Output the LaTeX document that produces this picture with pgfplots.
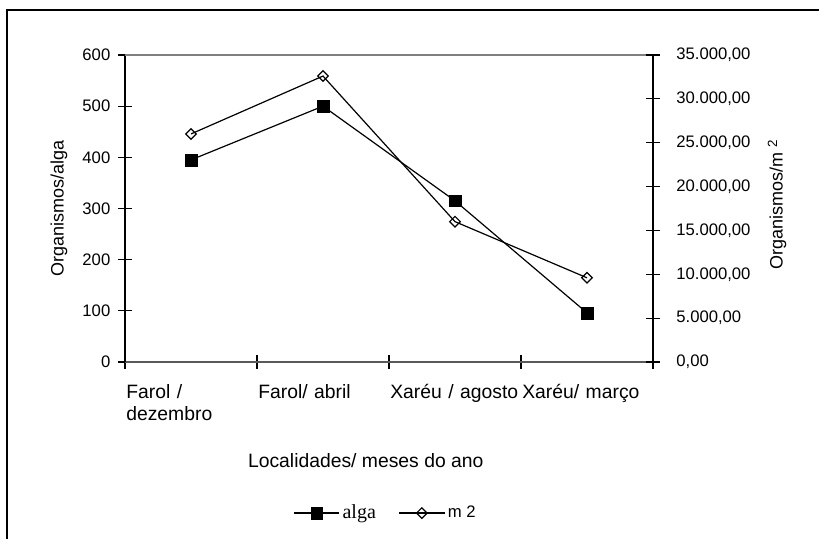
\documentclass[border=0pt]{standalone}
\usepackage{pgfplots}
\pgfplotsset{compat=1.18}
\usepackage{fontspec}
\setmainfont{Liberation Sans}
\newfontfamily\seriffont{Liberation Serif}
\newcommand{\fsT}{\fontsize{12.5}{15}\selectfont}
\newcommand{\fsC}{\fontsize{14.5}{16.5}\selectfont}
\newcommand{\fsL}{\fontsize{13.5}{16}\selectfont}
\begin{document}
\begin{tikzpicture}
\pgfplotsset{
  common/.style={
    scale only axis, width=396pt, height=230.25pt,
    xmin=0, xmax=4,
    tick align=center, major tick length=10pt,
    tick style={black, line width=0.8pt},
    /pgf/number format/assume math mode=true,
    yticklabel style={font=\fsT},
    every axis y label/.style={font=\fsL, rotate=90, anchor=center},
    clip=false,
  },
  algastyle/.style={black, line width=0.9pt, mark=square*, mark size=4.4pt, mark options={solid, fill=black, line width=0.3pt}},
  m2style/.style={black, line width=0.9pt, mark=square, mark size=2.8pt, mark options={solid, rotate=45, fill=white, line width=0.9pt}},
}
\begin{axis}[common,
  axis x line*=bottom, axis y line*=left,
  x axis line style={draw=black!65, line width=2pt, -},
  y axis line style={black, line width=1.1pt, -},
  ymin=0, ymax=600, ytick={0,100,...,600},
  xtick={0,1,2,3,4}, xticklabels={},
  extra x ticks={0.5,1.5,2.5,3.5},
  extra x tick labels={{Farol /\\dezembro}, {Farol/ abril}, {Xaréu / agosto}, {Xaréu/ março}},
  extra x tick style={major tick length=0pt, xticklabel style={font=\fsC, text width=97pt, align=left, anchor=north, yshift=-13pt}},
  yticklabel style={xshift=-2.5pt},
  xlabel={Localidades/ meses do ano},
  xlabel style={font=\fsC, at={(axis description cs:0.456,-0.322)}, anchor=center},
  ylabel={Organismos/alga},
  ylabel style={at={(axis description cs:-0.125,0.5)}},
]
\draw[black!50, line width=1.3pt] (axis cs:0,600) -- (axis cs:4,600);
\addplot[algastyle] coordinates {(0.5,395) (1.5,500) (2.5,315) (3.5,96)};
\end{axis}
\begin{axis}[common,
  axis x line=none, axis y line*=right,
  y axis line style={black, line width=1.1pt, -},
  ymin=0, ymax=35000, ytick={0,5000,10000,15000,20000,25000,30000,35000},
  scaled y ticks=false,
  yticklabels={{0,00},{5.000,00},{10.000,00},{15.000,00},{20.000,00},{25.000,00},{30.000,00},{35.000,00}},
  yticklabel style={xshift=9pt},
  ylabel={Organismos/m\;\raisebox{0.6ex}{\fontsize{10}{11}\selectfont 2}},
  ylabel style={at={(axis description cs:1.235,0.511)}},
  legend columns=2,
  legend cell align=left,
  legend style={draw=none, fill=none, at={(axis description cs:0.494,-0.492)}, anchor=center, font=\fsT,
    nodes={inner sep=2pt},
    /tikz/every even column/.append style={column sep=15pt}},
  legend image code/.code={\draw[mark repeat=2,mark phase=2,#1] plot coordinates {(0pt,0pt) (17pt,0pt) (34pt,0pt)};},
]
\addlegendimage{algastyle}
\addlegendentry{{\seriffont\fontsize{15}{17}\selectfont alga}}
\addplot[m2style] coordinates {(0.5,26000) (1.5,32600) (2.5,16000) (3.5,9600)};
\addlegendentry{m 2}
\end{axis}
\draw[line width=1.5pt] (-88.5pt,-140pt) -- (-88.5pt,264pt) -- (530pt,264pt);
\pgfresetboundingbox
\path[use as bounding box] (-93.75pt,-132.75pt) rectangle (520.5pt,271.5pt);
\end{tikzpicture}
\end{document}
